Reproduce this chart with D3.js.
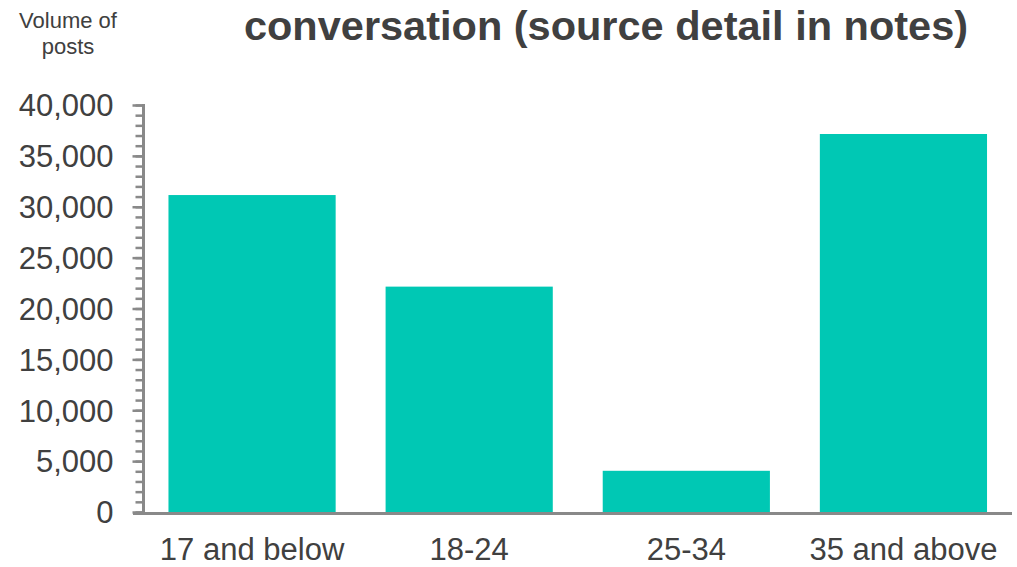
<!DOCTYPE html>
<html>
<head>
<meta charset="utf-8">
<script src="https://cdn.jsdelivr.net/npm/d3@7"></script>
<style>
  html, body { margin: 0; padding: 0; background: #ffffff; }
  svg { display: block; font-family: "Liberation Sans", Arial, sans-serif; }
</style>
</head>
<body>
<svg id="chart" width="1017" height="567"></svg>
<script>
const categories = ["17 and below", "18-24", "25-34", "35 and above"];
const values = [31150, 22150, 4050, 37150];
const majorTicks = [0, 5000, 10000, 15000, 20000, 25000, 30000, 35000, 40000];
const minorTicks = d3.range(0, 40001, 1000);
const titleText = "conversation (source detail in notes)";
const yLabelLines = ["Volume of", "posts"];

const svg = d3.select("#chart");
const barColor = "#00c8b4";
const axisColor = "#898989";
const textColor = "#404040";

const x = d3.scaleBand().domain(categories).range([143.5, 1012]).paddingInner(0.23).paddingOuter(0.115);
const y = d3.scaleLinear().domain([0, 40000]).range([512, 105]);

// bars
svg.append("g").selectAll("rect").data(values).join("rect")
  .attr("x", (d, i) => x(categories[i]))
  .attr("width", x.bandwidth())
  .attr("y", d => y(d))
  .attr("height", d => y(0) - y(d))
  .attr("fill", barColor);

// minor ticks
const minorAxis = d3.axisLeft(y).tickValues(minorTicks).tickSize(8).tickFormat("");
const gMinor = svg.append("g").attr("transform", "translate(143.5,0)").call(minorAxis);
gMinor.select(".domain").remove();
gMinor.selectAll("line").attr("stroke", axisColor).attr("stroke-width", 2.5);

// major ticks + labels
const majorAxis = d3.axisLeft(y).tickValues(majorTicks).tickSize(11).tickPadding(19)
  .tickFormat(d3.format(","));
const gMajor = svg.append("g").attr("transform", "translate(143.5,0)").call(majorAxis);
gMajor.select(".domain").remove();
gMajor.selectAll("line").attr("stroke", axisColor).attr("stroke-width", 2.5);
gMajor.selectAll("text").attr("fill", textColor).style("font-size", "31px")
  .style("font-family", "'Liberation Sans', Arial, sans-serif").attr("dy", "0.35em");

// y axis line
svg.append("line").attr("x1", 143.5).attr("x2", 143.5).attr("y1", y(40000) - 1).attr("y2", y(0) + 3)
  .attr("stroke", axisColor).attr("stroke-width", 3);

// x axis
const xAxis = d3.axisBottom(x).tickSize(0).tickPadding(0);
const gx = svg.append("g").attr("transform", `translate(0,${y(0) + 1.5})`).call(xAxis);
gx.select(".domain").remove();
gx.selectAll("text").attr("fill", textColor).style("font-size", "31px")
  .style("font-family", "'Liberation Sans', Arial, sans-serif")
  .attr("dy", null).attr("y", 46);
svg.append("line").attr("x1", 133).attr("x2", 1012).attr("y1", y(0) + 1.5).attr("y2", y(0) + 1.5)
  .attr("stroke", axisColor).attr("stroke-width", 3);

// title
svg.append("text").attr("x", 606).attr("y", 40).attr("text-anchor", "middle")
  .attr("fill", textColor).style("font-size", "41.5px").style("font-weight", "bold")
  .text(titleText);

// y label
svg.append("g").selectAll("text").data(yLabelLines).join("text")
  .attr("x", 68).attr("y", (d, i) => 28 + i * 26).attr("text-anchor", "middle")
  .attr("fill", textColor).style("font-size", "22px").text(d => d);
</script>
</body>
</html>
